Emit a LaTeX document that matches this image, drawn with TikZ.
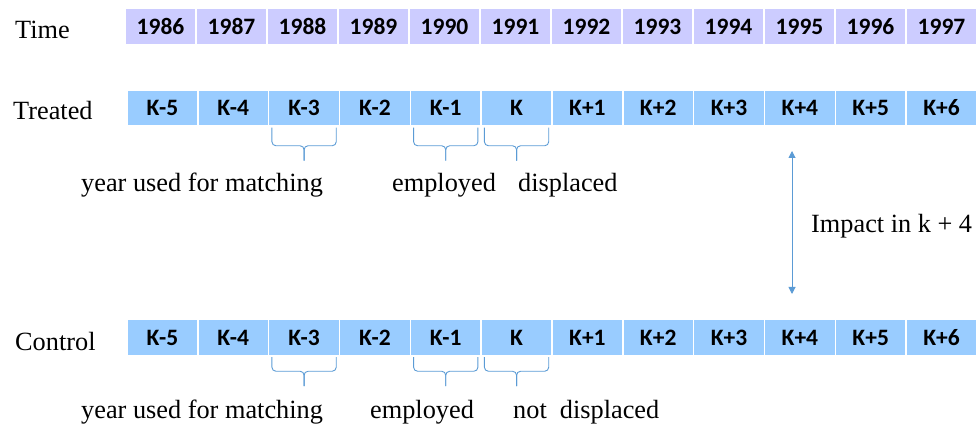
\documentclass[tikz,border=0pt]{standalone}
\usepackage{fontspec}
\setmainfont{Liberation Serif}
\newfontfamily\cellfont{Carlito}
\usetikzlibrary{arrows.meta,calc}
\definecolor{timefill}{HTML}{CCCCFF}
\definecolor{kfill}{HTML}{99CCFF}
\definecolor{bluel}{HTML}{5B9BD5}
\tikzset{
  cellbase/.style={draw=white, line width=1.5pt, minimum height=36pt, inner sep=0pt,
    font=\cellfont\bfseries\fontsize{23.5}{25}\selectfont, text=black},
  timecell/.style={cellbase, fill=timefill, minimum width=71pt},
  kcell/.style={cellbase, fill=kfill, minimum width=70.83pt},
  lbl/.style={anchor=base west, inner sep=0pt, font=\fontsize{26.3}{28}\selectfont},
  brc/.style={draw=bluel, line width=0.9pt, rounded corners=4pt},
  arr/.style={draw=bluel, line width=1pt, {Triangle[width=7pt,length=7pt]}-{Triangle[width=7pt,length=7pt]}}
}
\begin{document}
\begin{tikzpicture}[x=1pt,y=-1pt]
\useasboundingbox (0,0) rectangle (980,427);
% labels on the left
\node[lbl] (ltime) at (15,39) {Time};
\node[lbl] (ltreat) at (13,120) {Treated};
\node[lbl] (lctrl) at (15,351) {Control};
% time row
\foreach \i/\y in {0/1986,1/1987,2/1988,3/1989,4/1990,5/1991,6/1992,7/1993,8/1994,9/1995,10/1996,11/1997}{
  \node[timecell] (y\i) at ({125+35.5+71*\i},26.5) {\y};
}
% treated and control rows
\foreach \i/\k in {0/K-5,1/K-4,2/K-3,3/K-2,4/K-1,5/K,6/K+1,7/K+2,8/K+3,9/K+4,10/K+5,11/K+6}{
  \node[kcell] (t\i) at ({127+35.415+70.83*\i},108) {\k};
  \node[kcell] (c\i) at ({127+35.415+70.83*\i},337.5) {\k};
}
% braces (treated)
\foreach \n in {t2,t4,t5}{
  \draw[brc] ([xshift=4pt,yshift=-1pt]\n.south west) |- ($(\n.south)+(0,-19pt)$) -- ++(0,-15pt);
  \draw[brc] ([xshift=-4pt,yshift=-1pt]\n.south east) |- ($(\n.south)+(0,-19pt)$) -- ++(0,-15pt);
}
% braces (control)
\foreach \n in {c2,c4,c5}{
  \draw[brc] ([xshift=4pt,yshift=-1pt]\n.south west) |- ($(\n.south)+(0,-15pt)$) -- ++(0,-15pt);
  \draw[brc] ([xshift=-4pt,yshift=-1pt]\n.south east) |- ($(\n.south)+(0,-15pt)$) -- ++(0,-15pt);
}
% brace labels
\node[lbl] (m1) at (81,192) {year used for matching};
\node[lbl] (e1) at (392,192) {employed};
\node[lbl] (d1) at (518,192) {displaced};
\node[lbl] (m2) at (81,418) {year used for matching};
\node[lbl] (e2) at (370,419) {employed};
\node[lbl] (d2) at (513,419) {not\ \ displaced};
% impact arrow
\coordinate (atop) at (792,151);
\coordinate (abot) at (792,294);
\draw[arr] (atop) -- (abot);
\node[lbl] (imp) at (811,233) {Impact in k + 4};
\end{tikzpicture}
\end{document}
